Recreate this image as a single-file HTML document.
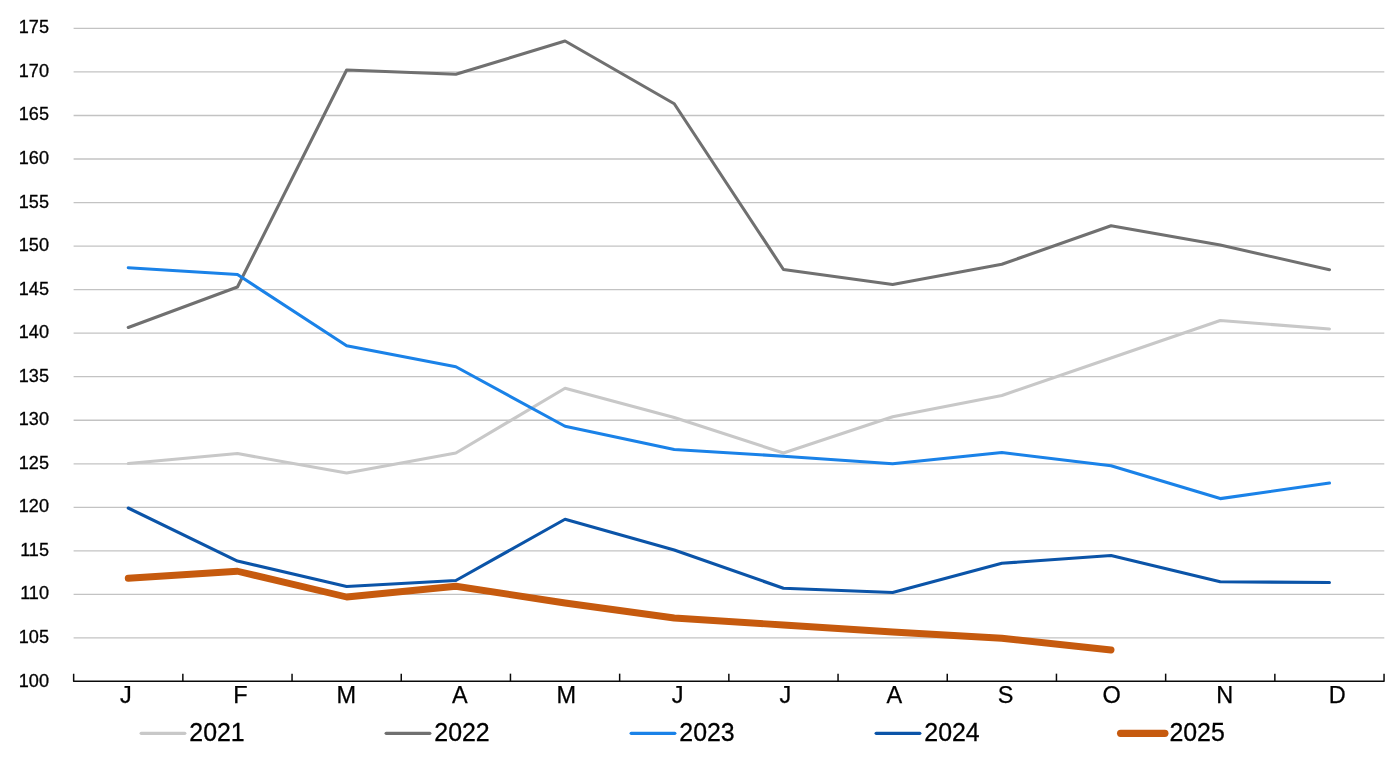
<!DOCTYPE html>
<html><head><meta charset="utf-8"><title>Chart</title>
<style>
html,body{margin:0;padding:0;background:#fff;}
body{width:1400px;height:763px;overflow:hidden;font-family:"Liberation Sans",sans-serif;}
svg{display:block;will-change:transform;}
text{font-family:"Liberation Sans",sans-serif;fill:#000;}
.yl{font-size:18.1px;text-anchor:end;stroke:#000;stroke-width:0.3px;}
.xl{font-size:23.5px;text-anchor:start;stroke:#000;stroke-width:0.25px;}
.lg{font-size:24.9px;text-anchor:start;stroke:#000;stroke-width:0.3px;}
.s{fill:none;stroke-linejoin:round;stroke-linecap:round;}
</style></head><body>
<svg width="1400" height="763" viewBox="0 0 1400 763">
<rect width="1400" height="763" fill="#fff"/>

<g stroke="#c3c3c3" stroke-width="1.3">
<line x1="73.6" x2="1384.3" y1="637.96" y2="637.96"/>
<line x1="73.6" x2="1384.3" y1="594.42" y2="594.42"/>
<line x1="73.6" x2="1384.3" y1="550.88" y2="550.88"/>
<line x1="73.6" x2="1384.3" y1="507.34" y2="507.34"/>
<line x1="73.6" x2="1384.3" y1="463.80" y2="463.80"/>
<line x1="73.6" x2="1384.3" y1="420.26" y2="420.26"/>
<line x1="73.6" x2="1384.3" y1="376.72" y2="376.72"/>
<line x1="73.6" x2="1384.3" y1="333.18" y2="333.18"/>
<line x1="73.6" x2="1384.3" y1="289.64" y2="289.64"/>
<line x1="73.6" x2="1384.3" y1="246.10" y2="246.10"/>
<line x1="73.6" x2="1384.3" y1="202.56" y2="202.56"/>
<line x1="73.6" x2="1384.3" y1="159.02" y2="159.02"/>
<line x1="73.6" x2="1384.3" y1="115.48" y2="115.48"/>
<line x1="73.6" x2="1384.3" y1="71.94" y2="71.94"/>
<line x1="73.6" x2="1384.3" y1="28.40" y2="28.40"/>
</g>
<polyline class="s" stroke="#c8c8c8" stroke-width="3.1" points="128.25,463.50 237.45,453.50 346.65,473.00 455.85,453.00 565.05,388.25 674.25,417.50 783.45,453.00 892.65,416.75 1001.85,395.50 1111.05,358.00 1220.25,320.50 1329.45,329.00"/>
<polyline class="s" stroke="#707070" stroke-width="3.1" points="128.25,327.50 237.45,287.00 346.65,70.00 455.85,74.25 565.05,41.00 674.25,103.75 783.45,269.50 892.65,284.50 1001.85,264.25 1111.05,225.75 1220.25,245.00 1329.45,269.75"/>
<polyline class="s" stroke="#1a82e8" stroke-width="3.1" points="128.25,267.75 237.45,274.50 346.65,345.75 455.85,366.75 565.05,426.25 674.25,449.50 783.45,456.25 892.65,463.75 1001.85,452.50 1111.05,465.75 1220.25,498.60 1329.45,483.00"/>
<polyline class="s" stroke="#0b54a8" stroke-width="3.1" points="128.25,508.00 237.45,561.10 346.65,586.50 455.85,580.50 565.05,519.25 674.25,550.00 783.45,588.25 892.65,592.50 1001.85,563.25 1111.05,555.50 1220.25,581.75 1329.45,582.50"/>
<polyline class="s" stroke="#c65a0e" stroke-width="6.9" points="128.25,578.25 237.45,571.25 346.65,597.00 455.85,586.25 565.05,603.00 674.25,618.00 783.45,625.00 892.65,632.00 1001.85,638.25 1111.05,650.00"/>
<g stroke="#0a0a0a" stroke-width="1.5" fill="none" stroke-linejoin="round"><path d="M73.65,673.65 L73.65,681.15 L1384.05,681.15 L1384.05,673.65"/>
<line x1="182.85" x2="182.85" y1="673.65" y2="681.15"/>
<line x1="292.05" x2="292.05" y1="673.65" y2="681.15"/>
<line x1="401.25" x2="401.25" y1="673.65" y2="681.15"/>
<line x1="510.45" x2="510.45" y1="673.65" y2="681.15"/>
<line x1="619.65" x2="619.65" y1="673.65" y2="681.15"/>
<line x1="728.85" x2="728.85" y1="673.65" y2="681.15"/>
<line x1="838.05" x2="838.05" y1="673.65" y2="681.15"/>
<line x1="947.25" x2="947.25" y1="673.65" y2="681.15"/>
<line x1="1056.45" x2="1056.45" y1="673.65" y2="681.15"/>
<line x1="1165.65" x2="1165.65" y1="673.65" y2="681.15"/>
<line x1="1274.85" x2="1274.85" y1="673.65" y2="681.15"/>
</g>
<text class="yl" x="49" y="686.50">100</text>
<text class="yl" x="49" y="642.96">105</text>
<text class="yl" x="49" y="599.42">110</text>
<text class="yl" x="49" y="555.88">115</text>
<text class="yl" x="49" y="512.34">120</text>
<text class="yl" x="49" y="468.80">125</text>
<text class="yl" x="49" y="425.26">130</text>
<text class="yl" x="49" y="381.72">135</text>
<text class="yl" x="49" y="338.18">140</text>
<text class="yl" x="49" y="294.64">145</text>
<text class="yl" x="49" y="251.10">150</text>
<text class="yl" x="49" y="207.56">155</text>
<text class="yl" x="49" y="164.02">160</text>
<text class="yl" x="49" y="120.48">165</text>
<text class="yl" x="49" y="76.94">170</text>
<text class="yl" x="49" y="33.40">175</text>
<text class="xl" x="119.90" y="702.8">J</text>
<text class="xl" x="233.20" y="702.8">F</text>
<text class="xl" x="336.60" y="702.8">M</text>
<text class="xl" x="452.00" y="702.8">A</text>
<text class="xl" x="556.40" y="702.8">M</text>
<text class="xl" x="671.80" y="702.8">J</text>
<text class="xl" x="779.60" y="702.8">J</text>
<text class="xl" x="886.50" y="702.8">A</text>
<text class="xl" x="997.80" y="702.8">S</text>
<text class="xl" x="1102.60" y="702.8">O</text>
<text class="xl" x="1216.20" y="702.8">N</text>
<text class="xl" x="1328.70" y="702.8">D</text>
<line class="s" stroke="#c8c8c8" stroke-width="3.3" x1="141.20" x2="184.80" y1="733.3" y2="733.3"/>
<text class="lg" x="189.3" y="741">2021</text>
<line class="s" stroke="#707070" stroke-width="3.3" x1="386.20" x2="429.80" y1="733.3" y2="733.3"/>
<text class="lg" x="434.3" y="741">2022</text>
<line class="s" stroke="#1a82e8" stroke-width="3.3" x1="631.20" x2="674.80" y1="733.3" y2="733.3"/>
<text class="lg" x="679.3" y="741">2023</text>
<line class="s" stroke="#0b54a8" stroke-width="3.3" x1="876.20" x2="919.80" y1="733.3" y2="733.3"/>
<text class="lg" x="924.3" y="741">2024</text>
<line class="s" stroke="#c65a0e" stroke-width="7.2" x1="1120.60" x2="1164.90" y1="733.3" y2="733.3"/>
<text class="lg" x="1169.4" y="741">2025</text>
</svg></body></html>
